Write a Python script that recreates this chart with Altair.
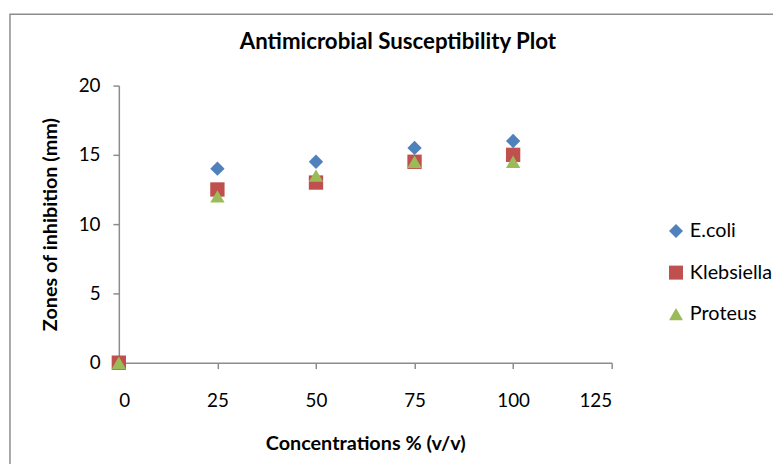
import altair as alt
import pandas as pd

concentrations = [0, 25, 50, 75, 100]
ecoli = [0, 14, 14.5, 15.5, 16]
klebsiella = [0, 12.5, 13, 14.5, 15]
proteus = [0, 12, 13.5, 14.5, 14.5]
series_names = ["E.coli", "Klebsiella", "Proteus"]
x_ticks = [0, 25, 50, 75, 100, 125]
y_ticks = [0, 5, 10, 15, 20]
chart_title = ["Antimicrobial Susceptibility Plot"]

rows = []
for name, vals in zip(series_names, [ecoli, klebsiella, proteus]):
    for c, v in zip(concentrations, vals):
        rows.append({"Concentration": c, "Zone": v, "Organism": name})
df = pd.DataFrame(rows)

FONT = "Lato"

border = alt.Chart(pd.DataFrame({"a": [0]})).mark_rect(
    fill=None, stroke="#8c8c8c", strokeWidth=1.5, clip=False
).encode(
    x=alt.value(-110), x2=alt.value(900), y=alt.value(-72), y2=alt.value(600)
)

title = alt.Chart(pd.DataFrame({"t": chart_title})).mark_text(
    font=FONT, fontSize=22.5, fontWeight="bold", color="black",
    align="center", baseline="alphabetic", clip=False
).encode(text="t:N", x=alt.value(282), y=alt.value(-37))

points = alt.Chart(df).mark_point(filled=True, opacity=1, size=210, clip=False).encode(
    x=alt.X("Concentration:Q",
            scale=alt.Scale(domain=[0, 125], nice=False, zero=True),
            axis=alt.Axis(values=x_ticks, title="Concentrations % (v/v)",
                          grid=False, tickSize=6, labelPadding=23,
                          titlePadding=24)),
    y=alt.Y("Zone:Q",
            scale=alt.Scale(domain=[0, 20], nice=False),
            axis=alt.Axis(values=y_ticks, title="Zones of inhibition  (mm)",
                          grid=False, tickSize=6, labelPadding=13,
                          titlePadding=18)),
    color=alt.Color("Organism:N",
                    scale=alt.Scale(domain=series_names,
                                    range=["#4F81BD", "#C0504D", "#9BBB59"]),
                    legend=alt.Legend(title=None, orient="none", legendX=553,
                                      legendY=137, padding=0, rowPadding=22,
                                      symbolSize=200, labelFontSize=20,
                                      labelFont=FONT, labelColor="black",
                                      labelOffset=4, symbolStrokeWidth=0)),
    shape=alt.Shape("Organism:N",
                    scale=alt.Scale(domain=series_names,
                                    range=["diamond", "square", "triangle-up"]),
                    legend=None),
    order=alt.Order("orderkey:Q"),
).transform_calculate(
    orderkey="indexof(['E.coli','Klebsiella','Proteus'], datum.Organism)"
)

chart = alt.layer(border, title, points).properties(
    width=498, height=280,
    autosize=alt.AutoSizeParams(type="none"),
    padding={"left": 112, "top": 76, "right": 163, "bottom": 100},
).configure_view(stroke=None).configure_axis(
    domainColor="#8c8c8c", tickColor="#8c8c8c", domainWidth=1.5, tickWidth=1.5,
    labelFont=FONT, labelFontSize=19, labelColor="black",
    titleFont=FONT, titleFontSize=20, titleFontWeight="bold", titleColor="black",
)

chart.save("out.html", embed_options={"renderer": "svg", "actions": False})
